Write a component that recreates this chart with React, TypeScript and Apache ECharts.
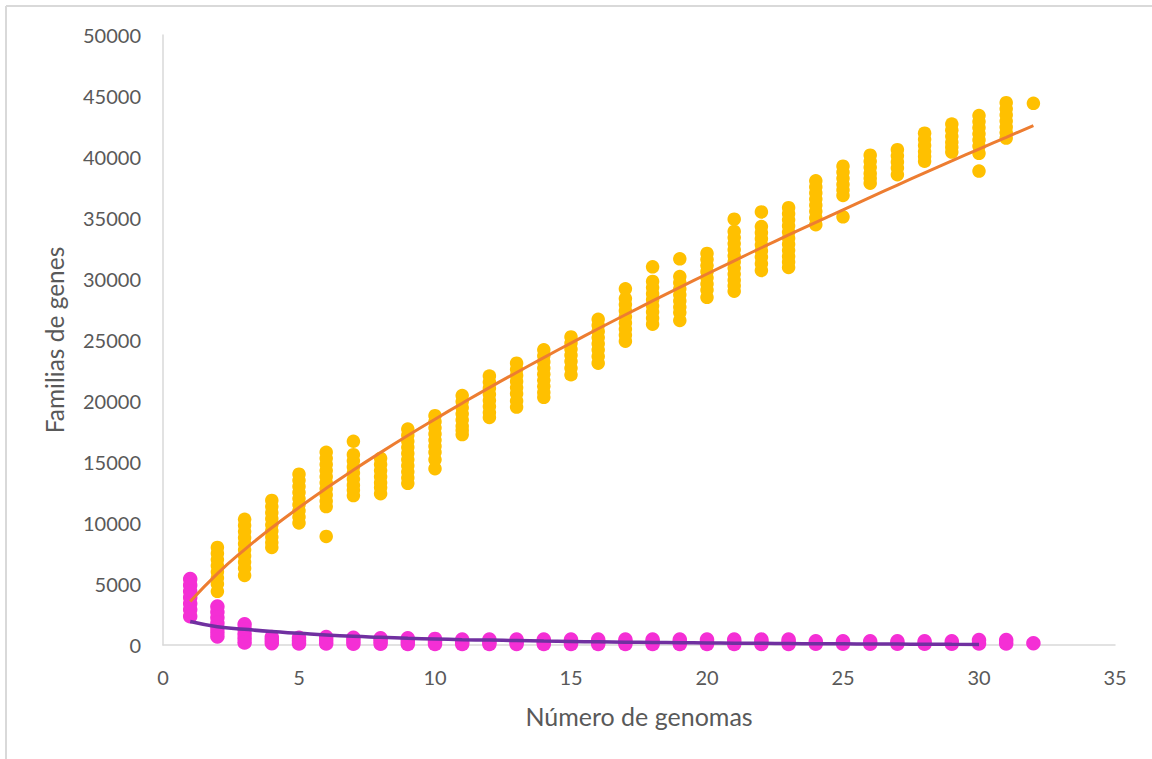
import React, { useEffect, useRef } from "react";
import * as echarts from "echarts";

// Número de genomas (x) for each column
const genomeCounts = [
  1, 2, 3, 4, 5, 6, 7, 8, 9, 10, 11, 12, 13, 14, 15, 16,
  17, 18, 19, 20, 21, 22, 23, 24, 25, 26, 27, 28, 29, 30, 31, 32,
];

// Pan-genome gene families (yellow), one list per x
const panValues: number[][] = [
  [5400, 4900, 4400, 3900, 3400, 2900, 2400],
  [8000, 7500, 7000, 6500, 6000, 5500, 5000, 4400],
  [10300, 9800, 9300, 8800, 8300, 7800, 7300, 6800, 6300, 5700],
  [11850, 11350, 10850, 10350, 9850, 9350, 8850, 8400, 8000],
  [14000, 13500, 13000, 12500, 12000, 11500, 11000, 10500, 10000],
  [15800, 15300, 14800, 14300, 13800, 13300, 12800, 12300, 11800, 11350, 8900],
  [16700, 15600, 15100, 14600, 14100, 13600, 13100, 12700, 12250],
  [15300, 14800, 14300, 13800, 13300, 12900, 12400],
  [17700, 17200, 16700, 16200, 15700, 15200, 14700, 14200, 13700, 13250],
  [18800, 18300, 17800, 17300, 16800, 16300, 15800, 15200, 14450],
  [20450, 19950, 19450, 18950, 18450, 17950, 17600, 17250],
  [22050, 21550, 21050, 20550, 20050, 19550, 19050, 18650],
  [23100, 22600, 22100, 21600, 21100, 20600, 20000, 19500],
  [24200, 23700, 23200, 22700, 22200, 21700, 21200, 20700, 20300],
  [25250, 24750, 24250, 23750, 23250, 22700, 22150],
  [26700, 26200, 25700, 25200, 24700, 24200, 23650, 23100],
  [29200, 28400, 27900, 27400, 26900, 26400, 25900, 25400, 24900],
  [31000, 29800, 29300, 28800, 28300, 27800, 27300, 26800, 26300],
  [31650, 30200, 29700, 29200, 28700, 28200, 27700, 27250, 26600],
  [32100, 31600, 31100, 30600, 30100, 29600, 29100, 28500],
  [34900, 33900, 33400, 32900, 32400, 31900, 31400, 30900, 30400, 29900, 29450, 29000],
  [35500, 34300, 33800, 33300, 32800, 32300, 31800, 31250, 30700],
  [35850, 35350, 34850, 34350, 33850, 33350, 32850, 32350, 31850, 31400, 30950],
  [38050, 37550, 37050, 36550, 36050, 35550, 35000, 34450],
  [39250, 38750, 38250, 37750, 37300, 36850, 35100],
  [40150, 39650, 39150, 38650, 38250, 37850],
  [40600, 40100, 39600, 39100, 38550],
  [41950, 41450, 40950, 40450, 40050, 39650],
  [42700, 42200, 41700, 41200, 40800, 40400],
  [43400, 42900, 42400, 41900, 41400, 40900, 40300, 38850],
  [44450, 43950, 43450, 42950, 42450, 42000, 41550],
  [44400],
];

// Core-genome gene families (magenta), one list per x
const coreValues: number[][] = [
  [5400, 4900, 4400, 3900, 3400, 2900, 2350],
  [3150, 2700, 2250, 1800, 1400, 1050, 700],
  [1700, 1300, 900, 550, 200],
  [650, 400, 150],
  [600, 350, 120],
  [650, 380, 120],
  [600, 350, 100],
  [550, 330, 100],
  [550, 300, 80],
  [500, 280, 80],
  [450, 250, 80],
  [450, 250, 80],
  [450, 250, 80],
  [450, 250, 80],
  [450, 250, 80],
  [450, 250, 80],
  [450, 250, 80],
  [450, 250, 80],
  [450, 250, 80],
  [450, 250, 80],
  [450, 250, 80],
  [450, 250, 80],
  [450, 250, 80],
  [300, 100],
  [300, 100],
  [300, 100],
  [300, 100],
  [300, 100],
  [300, 100],
  [400, 120],
  [400, 120],
  [150],
];

// Trend line (orange) read at each x
const panTrend = [
  3560, 5850, 7820, 9610, 11270, 12840, 14340, 15780, 17170, 18510, 19820,
  21100, 22340, 23560, 24750, 25920, 27070, 28200, 29310, 30410, 31490,
  32560, 33610, 34650, 35670, 36690, 37700, 38700, 39680, 40650, 41610, 42580,
];

// Trend line (purple) read at each x (x = 1..30)
const coreTrend = [
  1920, 1500, 1290, 1100, 960, 820, 710, 630, 550, 490, 440, 400, 360, 320,
  290, 260, 230, 210, 190, 170, 150, 135, 120, 105, 95, 85, 75, 65, 55, 50,
];

const xTicks = [0, 5, 10, 15, 20, 25, 30, 35];
const yTicks = [0, 5000, 10000, 15000, 20000, 25000, 30000, 35000, 40000, 45000, 50000];

const xTitle = "Número de genomas";
const yTitle = "Familias de genes";

export default function App() {
  const ref = useRef<HTMLDivElement>(null);

  useEffect(() => {
    document.body.style.margin = "0";
    if (!ref.current) return;
    const chart = echarts.init(ref.current, undefined, { renderer: "svg" });

    const panData: number[][] = [];
    panValues.forEach((col, i) => col.forEach((v) => panData.push([genomeCounts[i], v])));
    const coreData: number[][] = [];
    coreValues.forEach((col, i) => col.forEach((v) => coreData.push([genomeCounts[i], v])));
    const panTrendData = panTrend.map((v, i) => [genomeCounts[i], v]);
    const coreTrendData = coreTrend.map((v, i) => [genomeCounts[i], v]);

    const font = "Lato, 'Open Sans', sans-serif";
    const W = 1152;
    const H = 759;

    chart.setOption({
      animation: false,
      backgroundColor: "#ffffff",
      grid: { left: 163, right: 37, top: 35, bottom: 114, containLabel: false },
      xAxis: {
        type: "value",
        min: xTicks[0],
        max: xTicks[xTicks.length - 1],
        interval: 5,
        name: xTitle,
        nameLocation: "middle",
        nameGap: 58,
        nameTextStyle: { color: "#595959", fontSize: 25, fontFamily: font },
        axisLine: { show: true, lineStyle: { color: "#d9d9d9", width: 1.5 } },
        axisTick: { show: false },
        splitLine: { show: false },
        axisLabel: {
          color: "#595959",
          fontSize: 20,
          fontFamily: font,
          margin: 22,
          formatter: (v: number) => String(v),
        },
      },
      yAxis: {
        type: "value",
        min: yTicks[0],
        max: yTicks[yTicks.length - 1],
        interval: 5000,
        name: yTitle,
        nameLocation: "middle",
        nameGap: 96,
        nameTextStyle: { color: "#595959", fontSize: 24.5, fontFamily: font },
        axisLine: { show: true, lineStyle: { color: "#d9d9d9", width: 1.5 } },
        axisTick: { show: false },
        splitLine: { show: false },
        axisLabel: {
          color: "#595959",
          fontSize: 20,
          fontFamily: font,
          margin: 22,
          formatter: (v: number) => String(v),
        },
      },
      graphic: [
        {
          type: "line",
          shape: { x1: 6, y1: 6, x2: W, y2: 6 },
          style: { stroke: "#d9d9d9", lineWidth: 2 },
          silent: true,
        },
        {
          type: "line",
          shape: { x1: 6, y1: 6, x2: 6, y2: H },
          style: { stroke: "#d9d9d9", lineWidth: 2 },
          silent: true,
        },
      ],
      series: [
        {
          type: "scatter",
          name: "Pan",
          data: panData,
          symbol: "circle",
          symbolSize: 13.5,
          itemStyle: { color: "#FFC000", opacity: 1 },
          z: 2,
        },
        {
          type: "scatter",
          name: "Core",
          data: coreData,
          symbol: "circle",
          symbolSize: 14.5,
          itemStyle: { color: "#F42FD5", opacity: 1 },
          z: 3,
        },
        {
          type: "line",
          name: "Pan trend",
          data: panTrendData,
          smooth: true,
          showSymbol: false,
          lineStyle: { color: "#ED7D31", width: 3 },
          z: 4,
        },
        {
          type: "line",
          name: "Core trend",
          data: coreTrendData,
          smooth: true,
          showSymbol: false,
          lineStyle: { color: "#7030A0", width: 3.5 },
          z: 5,
        },
      ],
    });

    return () => chart.dispose();
  }, []);

  return <div ref={ref} style={{ width: 1152, height: 759 }} />;
}
